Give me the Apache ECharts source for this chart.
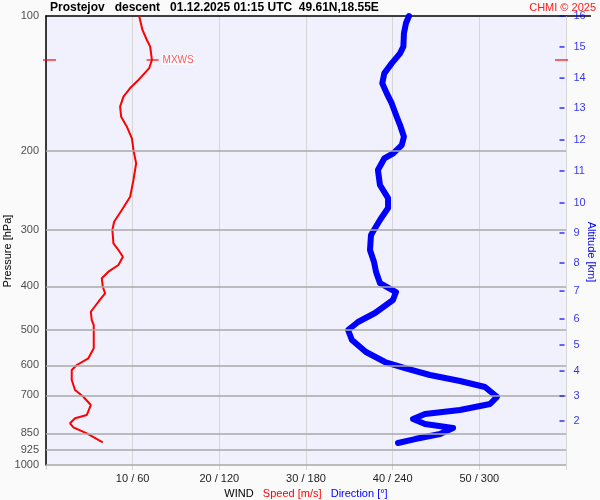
<!DOCTYPE html>
<html>
<head>
<meta charset="utf-8">
<script src="https://cdn.jsdelivr.net/npm/echarts@6/dist/echarts.min.js"></script>
<style>
html,body{margin:0;padding:0;background:#fafafa;}
#chart{width:600px;height:500px;}
</style>
</head>
<body>
<div id="chart"></div>
<script>
// ---- data ----
const titleText = 'Prostejov   descent   01.12.2025 01:15 UTC  49.61N,18.55E';
const creditText = 'CHMI \u00a9 2025';
const pressureLabels = [100, 200, 300, 400, 500, 600, 700, 850, 925, 1000];
const gridPressures = [200, 300, 400, 500, 600, 700, 850, 925, 1000];
const speedTicks = [0, 10, 20, 30, 40, 50, 60];
const altitudeKm = [2, 3, 4, 5, 6, 7, 8, 9, 10, 11, 12, 13, 14, 15, 16];
const altitudePressure = [798, 702, 617.6, 540.5, 473, 409.8, 354.9, 304.3, 260.9, 221.4, 188.9, 160.3, 137.5, 117.2, 100];

const speedPressure = [100, 107.4, 113.1, 117.0, 125.3, 130.6, 138.8, 144.7, 151.2, 159.2, 167.6, 176.4, 187.3, 198.8, 212.9, 231.9, 252.7, 270.4, 287.2, 299.7, 320.8, 332.0, 343.6, 358.5, 371.1, 383.9, 400.8, 414.6, 432.9, 455.7, 475.5, 487.9, 549.7, 578.6, 598.8, 614.4, 646.7, 680.8, 704.6, 735.2, 773.8, 787.1, 807.5, 824.3, 850.1, 890.1];
const speedValues = [10.75, 11.13, 11.64, 12.02, 12.22, 11.91, 10.67, 9.71, 8.94, 8.55, 8.67, 9.33, 9.91, 10.09, 10.40, 10.09, 9.71, 8.75, 7.86, 7.66, 7.78, 8.36, 8.87, 8.36, 7.20, 6.44, 6.55, 6.82, 6.05, 5.17, 5.28, 5.51, 5.51, 4.89, 3.55, 2.97, 2.97, 3.35, 4.31, 5.17, 4.71, 3.35, 2.77, 3.16, 4.71, 6.55];

const dirPressure = [100, 103.8, 109.3, 117.0, 121.1, 127.5, 134.2, 141.2, 148.7, 156.4, 167.6, 174.9, 185.7, 193.9, 202.2, 207.6, 220.3, 237.9, 254.4, 267.7, 284.7, 307.4, 332.0, 353.1, 371.7, 393.3, 411.9, 429.1, 458.7, 480.3, 500.4, 526.8, 560.2, 589.7, 608.1, 630.3, 650.1, 670.4, 705, 731.3, 754.2, 769.8, 789.9, 810.4, 827.4, 853.2, 875.4, 893.5];
const dirValues = [251.3, 249.2, 247.8, 247.4, 245.1, 239.3, 234.2, 232.8, 235.9, 239.3, 242.8, 245.1, 247.8, 246.3, 240.4, 234.2, 229.8, 231.2, 236.8, 236.8, 231.2, 225.0, 224.3, 227.1, 228.5, 231.2, 242.3, 240.2, 227.8, 216.0, 209.1, 211.8, 221.5, 234.7, 248.5, 265.8, 286.6, 303.9, 312.2, 307.4, 286.6, 262.4, 254.1, 262.4, 281.8, 272.8, 255.5, 243.7];

const mxwsSpeed = 12.3;
const mxwsPressure = 125.3;

// ---- build ----
const FONT = 'Liberation Sans, Arial, sans-serif';
const zip = (xs, ys) => xs.map((x, i) => [x, ys[i]]);

const chart = echarts.init(document.getElementById('chart'), null, {renderer: 'canvas'});
chart.setOption({
  backgroundColor: '#fafafa',
  animation: false,
  title: [
    {text: titleText, left: 50, top: 2, padding: 0,
     textStyle: {fontFamily: FONT, fontSize: 12, fontWeight: 'bold', color: '#000'}},
    {text: creditText, right: 4, top: 2, padding: 0,
     textStyle: {fontFamily: FONT, fontSize: 11, fontWeight: 'normal', color: '#ff1a1a'}}
  ],
  grid: {left: 46, right: 34, top: 16, bottom: 35, show: true, backgroundColor: '#f1f1fd', borderWidth: 0,
         containLabel: false, outerBoundsMode: 'none'},
  xAxis: [
    {type: 'value', min: speedTicks[0], max: speedTicks[speedTicks.length - 1], interval: 10, position: 'bottom',
     axisLine: {show: false},
     axisTick: {show: true, length: 5, lineStyle: {color: '#d6d6d6'}},
     splitLine: {show: true, lineStyle: {color: '#d6d6d6', width: 1}},
     axisLabel: {margin: 8, fontFamily: FONT, fontSize: 11, color: '#222',
       formatter: v => (v === 0 || v === 60) ? '' : (v + ' / ' + v * 6)},
     name: '{w|WIND}   {s|Speed [m/s]}   {d|Direction [\u00b0]}',
     nameLocation: 'middle', nameGap: 20,
     nameTextStyle: {fontFamily: FONT, fontSize: 11, rich: {
       w: {color: '#000', fontFamily: FONT, fontSize: 11},
       s: {color: '#ff0000', fontFamily: FONT, fontSize: 11},
       d: {color: '#0000ff', fontFamily: FONT, fontSize: 11}}}
    },
    {type: 'value', min: 0, max: 360, position: 'top',
     axisLine: {show: true, lineStyle: {color: '#000', width: 1.5}},
     axisTick: {show: false}, axisLabel: {show: false}, splitLine: {show: false}}
  ],
  yAxis: [
    {type: 'log', logBase: 10, min: 100, max: 1000, inverse: true,
     axisLine: {show: true, lineStyle: {color: '#000', width: 1.5}},
     axisTick: {show: false}, axisLabel: {show: false}, splitLine: {show: false}}
  ],
  graphic: [
    {type: 'line', shape: {x1: 566, y1: 16, x2: 591, y2: 16}, style: {stroke: '#000', lineWidth: 1.5}},
    {type: 'text', x: 8, y: 251, rotation: Math.PI / 2,
     style: {text: 'Pressure [hPa]', fill: '#000', font: '11px ' + FONT, align: 'center', verticalAlign: 'middle'}},
    {type: 'text', x: 591, y: 252, rotation: -Math.PI / 2,
     style: {text: 'Altitude [km]', fill: '#0000ee', font: '11px ' + FONT, align: 'center', verticalAlign: 'middle'}}
  ],
  series: [
    {type: 'scatter', name: 'plabels', z: 1, clip: false, symbolSize: 0,
     data: pressureLabels.map(p => [0, p]),
     label: {show: true, position: 'left', distance: 7, fontFamily: FONT, fontSize: 11, color: '#222',
       formatter: p => String(p.value[1])},
     markLine: {silent: true, symbol: 'none', animation: false,
       lineStyle: {color: '#a8a8a8', width: 1.5, type: 'solid'}, label: {show: false},
       data: gridPressures.map(p => ({yAxis: p}))}
    },
    {type: 'line', name: 'Speed', z: 3, xAxisIndex: 0, yAxisIndex: 0, showSymbol: false, symbol: 'none',
     lineStyle: {color: '#ff0000', width: 2},
     data: zip(speedValues, speedPressure)},
    {type: 'line', name: 'Direction', z: 4, xAxisIndex: 1, yAxisIndex: 0, showSymbol: false, symbol: 'none',
     clip: false,
     lineStyle: {color: '#0000ff', width: 6, cap: 'round', join: 'round'},
     data: zip(dirValues, dirPressure)},
    {type: 'scatter', name: 'mxws', z: 5, clip: false, symbol: 'rect', symbolSize: [12, 1.5],
     itemStyle: {color: '#ff0000'},
     data: [{value: [mxwsSpeed, mxwsPressure],
             label: {show: true, position: 'right', distance: 3, formatter: 'MXWS', fontFamily: FONT, fontSize: 10,
                     color: '#ff3030', backgroundColor: 'rgba(255,255,255,0.8)', padding: [0, 1]}}]},
    {type: 'scatter', name: 'mxwsEdgeL', z: 5, clip: false, symbol: 'rect', symbolSize: [13, 1.5], symbolOffset: [3.5, 0],
     itemStyle: {color: '#ff0000'}, data: [[0, mxwsPressure]]},
    {type: 'scatter', name: 'mxwsEdgeR', z: 5, clip: false, symbol: 'rect', symbolSize: [13, 1.5], symbolOffset: [-4.5, 0],
     itemStyle: {color: '#ff0000'}, data: [[60, mxwsPressure]]},
    {type: 'scatter', name: 'alt', z: 5, clip: false, symbol: 'rect', symbolSize: [5, 1.5], symbolOffset: [-4, 0],
     itemStyle: {color: '#0000ee'},
     data: altitudeKm.map((a, i) => ({value: [60, altitudePressure[i]], km: a})),
     label: {show: true, position: 'right', distance: 9, fontFamily: FONT, fontSize: 11, color: '#0000ee',
       formatter: p => String(altitudeKm[p.dataIndex])}}
  ]
});
</script>
</body>
</html>
